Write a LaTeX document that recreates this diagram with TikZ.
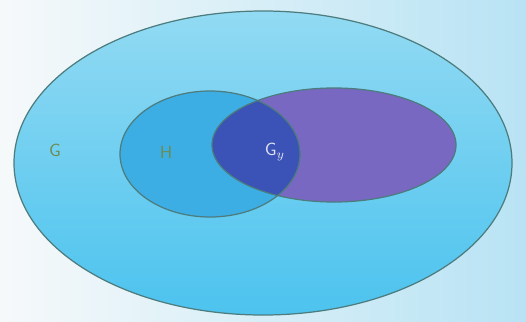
\documentclass[tikz,border=0pt]{standalone}
\usepackage{tikz}
\definecolor{bgleft}{HTML}{F6F9FA}
\definecolor{bgright}{HTML}{B8E3F4}
\definecolor{gtop}{HTML}{92DAF3}
\definecolor{gbot}{HTML}{4CC3EE}
\definecolor{hblue}{HTML}{3DAEE4}
\definecolor{kviolet}{HTML}{7868C2}
\definecolor{meet}{HTML}{3B52B6}
\definecolor{rim}{HTML}{4C7C7E}
\definecolor{lbl}{HTML}{6A8C52}

\begin{document}
\begin{tikzpicture}[x=0.02cm, y=-0.02cm]
  \useasboundingbox (0,0) rectangle (526,321);
  \shade[left color=bgleft, right color=bgright] (0,0) rectangle (526,321);
  % the big set G
  \shade[top color=gtop, bottom color=gbot, draw=rim, line width=0.7pt] (263,163) ellipse (249 and 152);
  % H and the second set
  \fill[hblue] (210,154) ellipse (90 and 63);
  \fill[kviolet] (334,145) ellipse (122 and 57);
  \begin{scope}
    \clip (210,154) ellipse (90 and 63);
    \fill[meet] (334,145) ellipse (122 and 57);
  \end{scope}
  \draw[rim, line width=0.7pt] (210,154) ellipse (90 and 63);
  \draw[rim, line width=0.7pt] (334,145) ellipse (122 and 57);
  % labels
  \node[lbl] (g) at (55,150) {\sffamily G};
  \node[lbl] (h) at (166,152) {\sffamily H};
  \node[white!85!meet] (gy) at (275,152) {\sffamily G$_{y}$};
\end{tikzpicture}
\end{document}
